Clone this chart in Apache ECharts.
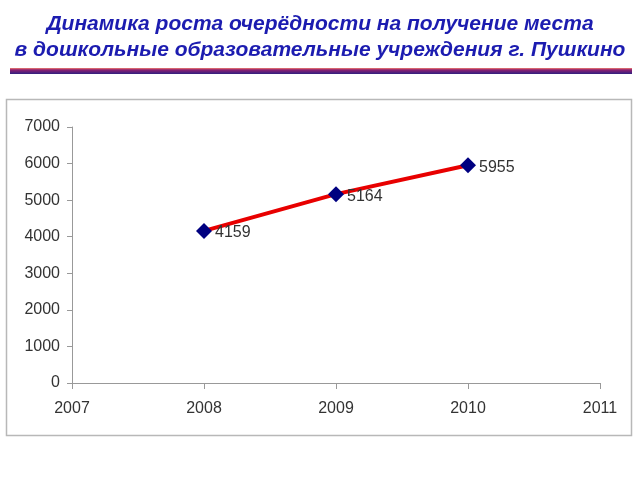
<!DOCTYPE html>
<html><head><meta charset="utf-8">
<script src="https://cdn.jsdelivr.net/npm/echarts@6/dist/echarts.min.js"></script>
<style>html,body{margin:0;padding:0;background:#fff}#c{width:640px;height:480px}</style>
</head><body><div id="c"></div>
<script>
const titleLines = ['Динамика роста очерёдности на получение места', 'в дошкольные образовательные учреждения г. Пушкино'];
const years = [2008, 2009, 2010];
const values = [4159, 5164, 5955];
const xTicks = [2007, 2008, 2009, 2010, 2011];
const yTicks = [0, 1000, 2000, 3000, 4000, 5000, 6000, 7000];

const chart = echarts.init(document.getElementById('c'), null, {renderer: 'canvas'});
const font = 'Liberation Sans, Arial, sans-serif';
chart.setOption({
  animation: false,
  backgroundColor: '#fff',
  title: {
    text: titleLines.join('\n'),
    left: 'center', top: 6,
    textStyle: {fontFamily: font, fontSize: 21, fontWeight: 'bold', fontStyle: 'italic', color: '#1c1cb0', lineHeight: 26}
  },
  graphic: [
    {type: 'rect', shape: {x: 10, y: 68, width: 622, height: 6}, style: {fill: new echarts.graphic.LinearGradient(0,0,0,1,[{offset:0,color:'#f08070'},{offset:0.3,color:'#902070'},{offset:1,color:'#302080'}])}},
    {type: 'rect', z: -1, shape: {x: 6.5, y: 99.5, width: 625, height: 336}, style: {fill: '#fff', stroke: '#b8b8b8', lineWidth: 1.5}}
  ],
  grid: {left: 72, right: 40, top: 127, bottom: 97},
  xAxis: {
    type: 'value', min: xTicks[0], max: xTicks[xTicks.length-1], interval: 1,
    axisLine: {lineStyle: {color: '#999', width: 1}},
    axisTick: {show: true, length: 6, lineStyle: {color: '#999'}},
    splitLine: {show: false},
    axisLabel: {fontFamily: font, fontSize: 16, color: '#333', margin: 18, formatter: v => String(v)}
  },
  yAxis: {
    type: 'value', min: yTicks[0], max: yTicks[yTicks.length-1], interval: 1000,
    axisLine: {show: true, lineStyle: {color: '#999', width: 1}},
    axisTick: {show: true, length: 5, lineStyle: {color: '#999'}},
    splitLine: {show: false},
    axisLabel: {fontFamily: font, fontSize: 16, color: '#333', margin: 12, formatter: v => String(v)}
  },
  series: [{
    type: 'line',
    data: years.map((y, i) => [y, values[i]]),
    lineStyle: {color: '#e80000', width: 4},
    symbol: 'diamond', symbolSize: 16,
    itemStyle: {color: '#000080'},
    label: {show: true, position: 'right', distance: 3, offset: [0, 2], fontFamily: font, fontSize: 16, color: '#333', formatter: p => String(p.value[1])}
  }]
});
</script></body></html>
